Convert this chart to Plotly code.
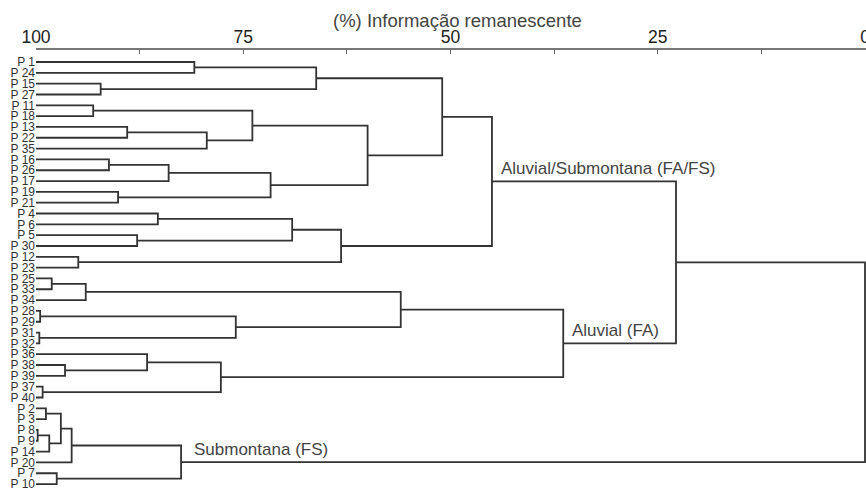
import plotly.graph_objects as go

# Leaf labels in dendrogram order (top to bottom)
leaves = ["P 1", "P 24", "P 15", "P 27", "P 11", "P 18", "P 13", "P 22", "P 35",
          "P 16", "P 26", "P 17", "P 19", "P 21", "P 4", "P 6", "P 5", "P 30",
          "P 12", "P 23", "P 25", "P 33", "P 34", "P 28", "P 29", "P 31", "P 32",
          "P 36", "P 38", "P 39", "P 37", "P 40", "P 2", "P 3", "P 8", "P 9",
          "P 14", "P 20", "P 7", "P 10"]

# Linkage: merge k creates cluster id len(leaves)+k
merge_left = [0, 2, 40, 4, 6, 44, 43, 9, 47, 12, 48, 46, 42, 14, 16, 53, 18, 55, 52,
              20, 59, 23, 25, 61, 60, 28, 27, 30, 66, 64, 58, 32, 34, 72, 71, 74, 38, 75, 70]
merge_right = [1, 3, 41, 5, 7, 8, 45, 10, 11, 13, 49, 50, 51, 15, 17, 54, 19, 56, 57,
               21, 22, 24, 26, 62, 63, 29, 65, 31, 67, 68, 69, 33, 35, 36, 73, 37, 39, 76, 77]
merge_height = [80.9, 92.2, 66.2, 93.1, 89.0, 79.4, 73.9, 91.2, 84.0, 90.1, 71.7, 60.0,
                51.0, 85.3, 87.8, 69.1, 94.9, 63.2, 45.0, 98.1, 94.0, 99.5, 99.6, 75.9,
                56.0, 96.5, 86.6, 99.2, 77.7, 36.4, 22.8, 98.8, 99.8, 98.4, 97.0, 95.7,
                97.5, 82.5, 0.0]

# Group labels: (cluster id, text)
group_nodes = [58, 69, 77]
group_texts = ["Aluvial/Submontana (FA/FS)", "Aluvial (FA)", "Submontana (FS)"]

axis_ticks = [100, 75, 50, 25, 0]
axis_title = "(%) Informação remanescente"

n = len(leaves)
node_x = {i: 100.0 for i in range(n)}
node_y = {i: float(i) for i in range(n)}

xs, ys = [], []
for k, (a, b, h) in enumerate(zip(merge_left, merge_right, merge_height)):
    cid = n + k
    xs += [node_x[a], h, h, node_x[b], None]
    ys += [node_y[a], node_y[a], node_y[b], node_y[b], None]
    node_x[cid] = h
    node_y[cid] = (node_y[a] + node_y[b]) / 2

line_color = "#333333"
font_family = "Arial, Liberation Sans, sans-serif"

fig = go.Figure()
fig.add_trace(go.Scatter(x=xs, y=ys, mode="lines",
                         line=dict(color=line_color, width=1.8),
                         hoverinfo="skip", showlegend=False))

shifts = [7, 7, 11]
for nid, txt, sh in zip(group_nodes, group_texts, shifts):
    fig.add_annotation(x=node_x[nid], y=node_y[nid], xref="x", yref="y",
                       text=txt, showarrow=False, xanchor="left", yanchor="bottom",
                       xshift=sh, yshift=1,
                       font=dict(family=font_family, size=17, color="#444"))

fig.add_annotation(x=49.2, y=1, xref="x", yref="paper", text=axis_title,
                   showarrow=False, xanchor="center", yanchor="middle", yshift=30,
                   font=dict(family=font_family, size=18.5, color="#444"))

fig.update_xaxes(range=[100, -0.12], side="top", tickvals=axis_ticks,
                 ticktext=[str(t) for t in axis_ticks], automargin=False,
                 ticks="inside", ticklen=4, tickcolor="#666", tickwidth=1.2,
                 minor=dict(tickvals=[87.5, 62.5, 37.5, 12.5], ticks="inside",
                            ticklen=4, tickcolor="#666", tickwidth=1.2),
                 showline=True, linecolor="#777", linewidth=1.5,
                 showgrid=False, zeroline=False, ticklabeloverflow="allow",
                 ticklabelstandoff=-2,
                 tickfont=dict(family=font_family, size=17.5, color="#222"))
fig.update_yaxes(range=[39.55, -1.11], tickvals=list(range(n)), ticktext=leaves,
                 ticks="", showline=False, showgrid=False, zeroline=False,
                 automargin=False, ticklabelstandoff=0, ticklabeloverflow="allow",
                 tickfont=dict(family=font_family, size=12, color="#333"))

fig.update_layout(width=866, height=490, margin=dict(l=36, r=0, t=50, b=0),
                  plot_bgcolor="white", paper_bgcolor="white")

fig.write_html("out.html", config={"displayModeBar": False})

# remove the browser's default page margin so the figure fills the window
with open("out.html", "r", encoding="utf-8") as f:
    html = f.read()
html = html.replace("<head>", "<head><style>html,body{margin:0;padding:0;overflow:hidden;}</style>", 1)
with open("out.html", "w", encoding="utf-8") as f:
    f.write(html)
